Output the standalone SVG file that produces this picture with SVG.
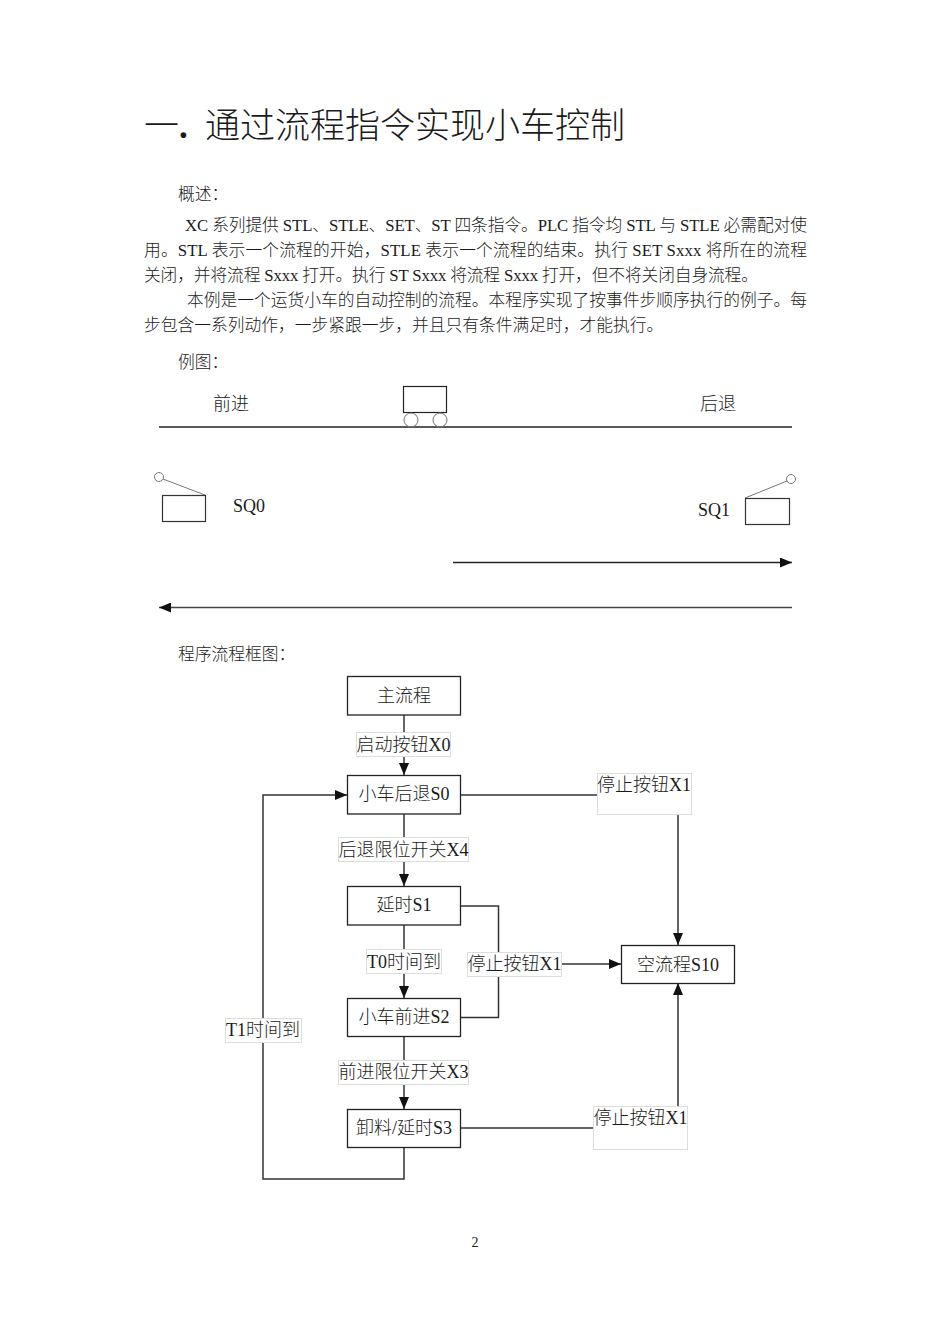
<svg xmlns="http://www.w3.org/2000/svg" width="950" height="1344" viewBox="0 0 950 1344">
<style>
text{font-family:"Liberation Serif","Noto Sans CJK SC",serif;fill:#1a1a1a;font-weight:300}
.b{font-size:16.76px}
.l{font-size:18px;text-anchor:middle}
.box{fill:#fff;stroke:#222;stroke-width:1.3}
.lab{fill:#fff;stroke:#ddd;stroke-width:1}
.c{fill:none;stroke:#333;stroke-width:1.5}
.g{fill:none;stroke:#777;stroke-width:1}
</style>
<defs>
<marker id="a" markerUnits="userSpaceOnUse" markerWidth="12" markerHeight="10" refX="12" refY="5" orient="auto"><path d="M0 0L12 5L0 10Z" fill="#111"/></marker>
</defs>
<rect width="950" height="1344" fill="#fff"/>
<text x="144" y="138" font-size="35">一<tspan font-weight="700">.</tspan></text>
<text x="205" y="138" font-size="35">通过流程指令实现小车控制</text>
<text class="b" x="178" y="200">概述：</text>
<text class="b" x="185" y="231" textLength="622" lengthAdjust="spacing">XC 系列提供 STL、STLE、SET、ST 四条指令。PLC 指令均 STL 与 STLE 必需配对使</text>
<text class="b" x="144" y="256" textLength="663" lengthAdjust="spacing">用。STL 表示一个流程的开始，STLE 表示一个流程的结束。执行 SET  Sxxx 将所在的流程</text>
<text class="b" x="144" y="281" textLength="614" lengthAdjust="spacing">关闭，并将流程 Sxxx 打开。执行 ST Sxxx 将流程 Sxxx 打开，但不将关闭自身流程。</text>
<text class="b" x="187" y="306" textLength="620" lengthAdjust="spacing">本例是一个运货小车的自动控制的流程。本程序实现了按事件步顺序执行的例子。每</text>
<text class="b" x="144" y="331">步包含一系列动作，一步紧跟一步，并且只有条件满足时，才能执行。</text>
<text class="b" x="178" y="368">例图：</text>
<text class="b" x="178" y="660">程序流程框图：</text>
<text x="475" y="1247" font-size="14" text-anchor="middle">2</text>

<g id="scene">
<line x1="159" y1="427" x2="792" y2="427" stroke="#222" stroke-width="1.3"/>
<rect x="403.500" y="386.500" width="43" height="26" fill="#fff" stroke="#222" stroke-width="1.2"/>
<circle cx="411" cy="420" r="7" class="g"/>
<circle cx="440" cy="420" r="7" class="g"/>
<text x="213" y="410" font-size="18">前进</text>
<text x="700" y="410" font-size="18">后退</text>
<circle cx="159" cy="477" r="4.500" class="g"/>
<line x1="163" y1="479" x2="205" y2="495" class="g"/>
<rect x="162.500" y="495.500" width="43" height="26" fill="#fff" stroke="#333" stroke-width="1.2"/>
<text x="233" y="512" font-size="18">SQ0</text>
<circle cx="791" cy="479" r="4.500" class="g"/>
<line x1="745" y1="498" x2="787" y2="481" class="g"/>
<rect x="745.500" y="498.500" width="44" height="26" fill="#fff" stroke="#333" stroke-width="1.2"/>
<text x="698" y="516" font-size="18">SQ1</text>
<line x1="453" y1="562.500" x2="792" y2="562.500" stroke="#222" stroke-width="1.3" marker-end="url(#a)"/>
<line x1="792" y1="607.500" x2="159" y2="607.500" stroke="#444" stroke-width="1.4" marker-end="url(#a)"/>
</g>

<g id="connectors">
<path class="c" d="M404 715V775" marker-end="url(#a)"/>
<path class="c" d="M404 814V886" marker-end="url(#a)"/>
<path class="c" d="M404 925V998" marker-end="url(#a)"/>
<path class="c" d="M404 1036V1109" marker-end="url(#a)"/>
<path class="c" d="M404 1147V1179H263V795H347" marker-end="url(#a)"/>
<path class="c" d="M460 795H678V945" marker-end="url(#a)"/>
<path class="c" d="M460 906H498.500V1017.500H460"/>
<path class="c" d="M498 964H621" marker-end="url(#a)"/>
<path class="c" d="M460 1128H678V983" marker-end="url(#a)"/>
</g>

<g id="n-main"><rect class="box" x="347.500" y="676.500" width="113" height="38.500"/><text class="l" x="404" y="702">主流程</text></g>
<g id="n-s0"><rect class="box" x="347.500" y="775.500" width="113" height="38.500"/><text class="l" x="404" y="800">小车后退S0</text></g>
<g id="n-s1"><rect class="box" x="347.500" y="886.500" width="113" height="38.500"/><text class="l" x="404" y="911">延时S1</text></g>
<g id="n-s2"><rect class="box" x="347.500" y="998.500" width="113" height="38"/><text class="l" x="404" y="1023">小车前进S2</text></g>
<g id="n-s3"><rect class="box" x="347.500" y="1109.500" width="113" height="38"/><text class="l" x="404" y="1134">卸料/延时S3</text></g>
<g id="n-s10"><rect class="box" x="621.500" y="945.500" width="113" height="38"/><text class="l" x="678" y="971">空流程S10</text></g>

<g id="l-x0"><rect class="lab" x="356.500" y="732.500" width="94" height="24"/><text class="l" x="403.500" y="751">启动按钮X0</text></g>
<g id="l-x4"><rect class="lab" x="338.500" y="837.500" width="130" height="24"/><text class="l" x="403.500" y="856">后退限位开关X4</text></g>
<g id="l-t0"><rect class="lab" x="366.500" y="949.500" width="75" height="24"/><text class="l" x="404" y="968">T0时间到</text></g>
<g id="l-x3"><rect class="lab" x="338.500" y="1060.500" width="130" height="24"/><text class="l" x="403.500" y="1078">前进限位开关X3</text></g>
<g id="l-t1"><rect class="lab" x="225.500" y="1018.500" width="76" height="24"/><text class="l" x="263" y="1036">T1时间到</text></g>
<g id="l-x1a"><rect class="lab" x="597.500" y="773.500" width="94" height="41"/><text class="l" x="644" y="791">停止按钮X1</text></g>
<g id="l-x1b"><rect class="lab" x="467.500" y="952.500" width="94" height="24"/><text class="l" x="514.500" y="970">停止按钮X1</text></g>
<g id="l-x1c"><rect class="lab" x="593.500" y="1106.500" width="94" height="43"/><text class="l" x="640.500" y="1124">停止按钮X1</text></g>
</svg>
